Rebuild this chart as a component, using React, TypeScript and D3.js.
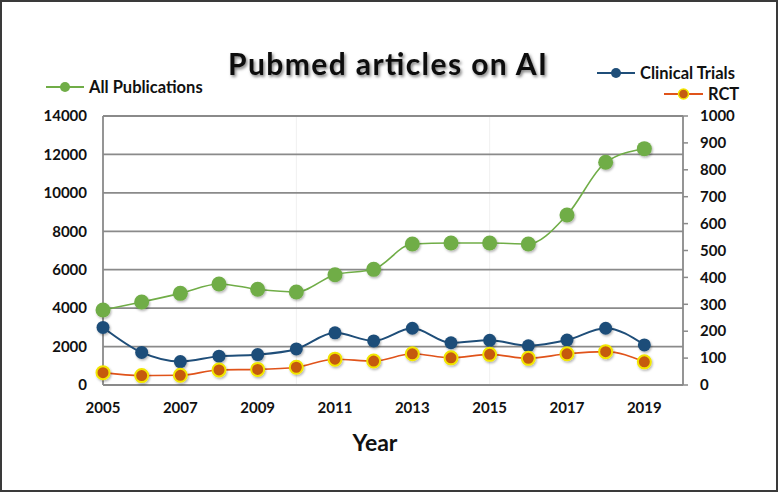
import React, { useEffect, useRef } from 'react';
import * as d3 from 'd3';

// years on the x axis
const years = [2005, 2006, 2007, 2008, 2009, 2010, 2011, 2012, 2013, 2014, 2015, 2016, 2017, 2018, 2019];
const yearTicks = [2005, 2007, 2009, 2011, 2013, 2015, 2017, 2019];
// left axis: all publications
const allPublications = [3900, 4320, 4770, 5260, 4980, 4840, 5740, 6020, 7340, 7390, 7390, 7340, 8850, 11590, 12300];
// right axis: clinical trials and RCT
const clinicalTrials = [214, 121, 87, 107, 113, 134, 194, 164, 211, 157, 166, 146, 167, 211, 149];
const rct = [46, 35, 36, 56, 58, 66, 96, 89, 116, 101, 114, 99, 116, 124, 86];
const leftTicks = [0, 2000, 4000, 6000, 8000, 10000, 12000, 14000];
const rightTicks = [0, 100, 200, 300, 400, 500, 600, 700, 800, 900, 1000];

const FONT = 'Lato, "Open Sans", sans-serif';

export default function App() {
  const ref = useRef<SVGSVGElement>(null);

  useEffect(() => {
    const svg = d3.select(ref.current);
    svg.selectAll('*').remove();
    const W = 779, H = 493;
    const left = 103, right = 683, top = 116, bottom = 385;

    const x = d3.scaleLinear().domain([2005, 2020]).range([left, right]);
    const yL = d3.scaleLinear().domain([0, 14000]).range([bottom, top]);
    const yR = d3.scaleLinear().domain([0, 1000]).range([bottom, top]);

    const defs = svg.append('defs');
    defs.append('filter').attr('id', 'shadow').attr('x', '-20%').attr('y', '-20%').attr('width', '140%').attr('height', '160%')
      .append('feDropShadow').attr('dx', 1.5).attr('dy', 2).attr('stdDeviation', 1.8).attr('flood-color', '#000').attr('flood-opacity', 0.5);
    defs.append('filter').attr('id', 'mshadow').attr('x', '-50%').attr('y', '-50%').attr('width', '200%').attr('height', '200%')
      .append('feDropShadow').attr('dx', 1).attr('dy', 1.5).attr('stdDeviation', 1).attr('flood-color', '#000').attr('flood-opacity', 0.3);

    svg.append('rect').attr('x', 0).attr('y', 0).attr('width', W).attr('height', H).attr('fill', '#fff');
    // outer frame
    svg.append('rect').attr('x', 1).attr('y', 1).attr('width', W - 3).attr('height', H - 3)
      .attr('fill', 'none').attr('stroke', '#3a3a3a').attr('stroke-width', 2);

    // faint vertical gridlines
    svg.append('g').selectAll('line').data([2010, 2015]).enter().append('line')
      .attr('x1', d => x(d)).attr('x2', d => x(d)).attr('y1', top).attr('y2', bottom)
      .attr('stroke', '#f0f0f0').attr('stroke-width', 1);

    // horizontal gridlines
    svg.append('g').selectAll('line').data(leftTicks).enter().append('line')
      .attr('x1', left).attr('x2', right).attr('y1', d => yL(d)).attr('y2', d => yL(d))
      .attr('stroke', '#8a8a8a').attr('stroke-width', 1.8);
    svg.append('line').attr('x1', left).attr('x2', left).attr('y1', top).attr('y2', bottom)
      .attr('stroke', '#8a8a8a').attr('stroke-width', 1.8);
    svg.append('line').attr('x1', right).attr('x2', right).attr('y1', top).attr('y2', bottom)
      .attr('stroke', '#8a8a8a').attr('stroke-width', 1.8);

    // right tick marks
    svg.append('g').selectAll('line').data(rightTicks).enter().append('line')
      .attr('x1', right).attr('x2', right + 5).attr('y1', d => yR(d)).attr('y2', d => yR(d))
      .attr('stroke', '#8a8a8a').attr('stroke-width', 1.5);

    // axis labels
    svg.append('g').selectAll('text').data(leftTicks).enter().append('text')
      .attr('x', 87).attr('y', d => yL(d)).attr('dy', '0.35em').attr('text-anchor', 'end')
      .attr('font-family', FONT).attr('font-weight', 'bold').attr('font-size', 15).attr('fill', '#111')
      .text(d => d);
    svg.append('g').selectAll('text').data(rightTicks).enter().append('text')
      .attr('x', 700).attr('y', d => yR(d)).attr('dy', '0.35em').attr('text-anchor', 'start')
      .attr('font-family', FONT).attr('font-weight', 'bold').attr('font-size', 15).attr('fill', '#111')
      .text(d => d);
    svg.append('g').selectAll('text').data(yearTicks).enter().append('text')
      .attr('x', d => x(d)).attr('y', 408).attr('dy', '0.35em').attr('text-anchor', 'middle')
      .attr('font-family', FONT).attr('font-weight', 'bold').attr('font-size', 15).attr('fill', '#111')
      .text(d => d);

    svg.append('text').attr('x', 375).attr('y', 443).attr('dy', '0.35em').attr('text-anchor', 'middle')
      .attr('font-family', FONT).attr('font-weight', 'bold').attr('font-size', 23).attr('fill', '#111')
      .text('Year');

    svg.append('text').attr('x', 228).attr('y', 75).attr('textLength', 319).attr('lengthAdjust', 'spacing')
      .attr('font-family', FONT).attr('font-weight', 'bold').attr('font-size', 30).attr('fill', '#111')
      .attr('filter', 'url(#shadow)')
      .text('Pubmed articles on AI');

    const series = [
      { name: 'All Publications', values: allPublications, y: yL, line: '#70ad47', width: 1.6, fill: '#70ad47', stroke: '#70ad47', r: 7.5, sw: 0, shadow: true },
      { name: 'Clinical Trials', values: clinicalTrials, y: yR, line: '#1f4e79', width: 2, fill: '#1f4e79', stroke: '#1f4e79', r: 6.5, sw: 0, shadow: true },
      { name: 'RCT', values: rct, y: yR, line: '#e0531a', width: 1.6, fill: '#c55a11', stroke: '#f2e600', r: 6.5, sw: 2, shadow: true },
    ];

    series.forEach(s => {
      const line = d3.line<number>()
        .x((_, i) => x(years[i]))
        .y(d => s.y(d))
        .curve(d3.curveMonotoneX);
      svg.append('path').datum(s.values).attr('d', line)
        .attr('fill', 'none').attr('stroke', s.line).attr('stroke-width', s.width);
      svg.append('g').selectAll('circle').data(s.values).enter().append('circle')
        .attr('cx', (_, i) => x(years[i])).attr('cy', d => s.y(d)).attr('r', s.r)
        .attr('fill', s.fill).attr('stroke', s.stroke).attr('stroke-width', s.sw)
        .attr('filter', s.shadow ? 'url(#mshadow)' : null);
    });

    // legends
    const legends = [
      { s: series[0], x1: 46, x2: 84, y: 87, tx: 89 },
      { s: series[1], x1: 597, x2: 635, y: 73, tx: 640 },
      { s: series[2], x1: 664, x2: 703, y: 94, tx: 708 },
    ];
    legends.forEach(l => {
      svg.append('line').attr('x1', l.x1).attr('x2', l.x2).attr('y1', l.y).attr('y2', l.y)
        .attr('stroke', l.s.line).attr('stroke-width', 2);
      svg.append('circle').attr('cx', (l.x1 + l.x2) / 2).attr('cy', l.y).attr('r', 5)
        .attr('fill', l.s.fill).attr('stroke', l.s.stroke).attr('stroke-width', l.s.sw ? 1.5 : 0);
      svg.append('text').attr('x', l.tx).attr('y', l.y).attr('dy', '0.35em')
        .attr('font-family', FONT).attr('font-weight', 'bold').attr('font-size', 16.5).attr('fill', '#111')
        .text(l.s.name);
    });
  }, []);

  return (
    <svg ref={ref} width={779} height={493}
      style={{ position: 'absolute', left: 0, top: 0, display: 'block' }} />
  );
}
